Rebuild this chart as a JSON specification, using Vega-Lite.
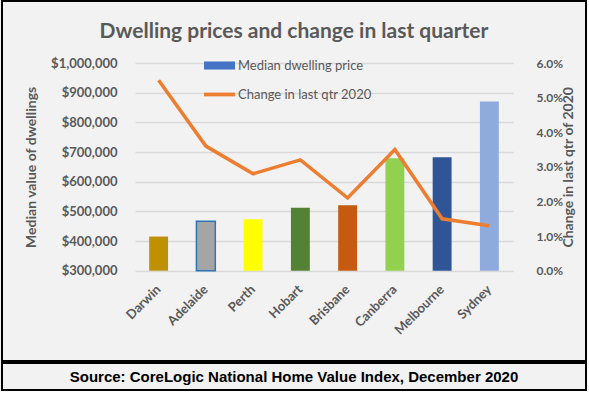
{
  "$schema": "https://vega.github.io/schema/vega-lite/v6.json",
  "background": "#F2F2F2",
  "padding": {"left": 1, "top": 0, "right": 0, "bottom": 0},
  "config": {
    "view": {"stroke": "#000000", "strokeWidth": 2},
    "concat": {"spacing": 0},
    "font": "Lato"
  },
  "vconcat": [
    {
      "width": 584,
      "height": 360,
      "title": {
        "text": "Dwelling prices and change in last quarter",
        "font": "Lato",
        "fontSize": 21,
        "fontWeight": "bold",
        "color": "#595959",
        "anchor": "middle",
        "offset": -41
      },
      "data": {
        "values": [
          {"city": "Darwin", "price": 415000, "change": 0.055},
          {"city": "Adelaide", "price": 467000, "change": 0.036},
          {"city": "Perth", "price": 473000, "change": 0.028},
          {"city": "Hobart", "price": 512000, "change": 0.032},
          {"city": "Brisbane", "price": 521000, "change": 0.021},
          {"city": "Canberra", "price": 679000, "change": 0.035},
          {"city": "Melbourne", "price": 682000, "change": 0.015},
          {"city": "Sydney", "price": 870000, "change": 0.013}
        ]
      },
      "encoding": {
        "x": {
          "field": "city",
          "type": "nominal",
          "sort": null,
          "scale": {"range": [133, 511], "paddingInner": 0.6, "paddingOuter": 0.3},
          "axis": {
            "title": null,
            "offset": -90,
            "domain": false,
            "ticks": false,
            "labelAngle": -45,
            "labelAlign": "right",
            "labelBaseline": "middle",
            "labelPadding": 16,
            "labelFont": "Lato",
            "labelFontSize": 13,
            "labelFontWeight": "bold",
            "labelColor": "#595959"
          }
        }
      },
      "layer": [
        {
          "mark": {"type": "bar", "strokeWidth": 1.5},
          "encoding": {
            "y": {
              "field": "price",
              "type": "quantitative",
              "scale": {"domain": [300000, 1000000], "range": [269.7, 62], "nice": false, "zero": false},
              "axis": {
                "orient": "left",
                "offset": -117,
                "values": [300000, 400000, 500000, 600000, 700000, 800000, 900000, 1000000],
                "format": "$,.0f",
                "domain": false,
                "ticks": false,
                "labelPadding": 2,
                "labelFont": "Lato",
                "labelFontSize": 13,
                "labelFontWeight": "bold",
                "labelColor": "#595959",
                "grid": true,
                "gridColor": "#D9D9D9",
                "gridWidth": 1.3,
                "title": "Median value of dwellings",
                "titleFont": "Lato",
                "titleFontSize": 14,
                "titleFontWeight": "bold",
                "titleColor": "#595959",
                "titlePadding": 12
              }
            },
            "y2": {"datum": 300000},
            "color": {
              "field": "city",
              "type": "nominal",
              "scale": {
                "domain": ["Darwin", "Adelaide", "Perth", "Hobart", "Brisbane", "Canberra", "Melbourne", "Sydney"],
                "range": ["#BF9000", "#A5A5A5", "#FFFF00", "#548235", "#C55A11", "#92D050", "#2F5597", "#8FAADC"]
              },
              "legend": null
            },
            "stroke": {
              "condition": {"test": "datum.city === 'Adelaide'", "value": "#2E75B6"},
              "value": null
            }
          }
        },
        {
          "mark": {"type": "line", "strokeWidth": 3.5},
          "encoding": {
            "y": {
              "field": "change",
              "type": "quantitative",
              "scale": {"domain": [0, 0.06], "range": [269.7, 62], "nice": false},
              "axis": {
                "orient": "right",
                "offset": -52,
                "values": [0, 0.01, 0.02, 0.03, 0.04, 0.05, 0.06],
                "format": ".1%",
                "domain": false,
                "ticks": false,
                "grid": false,
                "labelPadding": 2,
                "labelFont": "Lato",
                "labelFontSize": 12,
                "labelFontWeight": "bold",
                "labelColor": "#595959",
                "title": "Change in last qtr of 2020",
                "titleFont": "Lato",
                "titleFontSize": 14,
                "titleFontWeight": "bold",
                "titleColor": "#595959",
                "titleAngle": 270,
                "titleBaseline": "top",
                "titlePadding": -1
              }
            },
            "stroke": {
              "datum": "Change in last qtr 2020",
              "type": "nominal",
              "scale": {
                "domain": ["Median dwelling price", "Change in last qtr 2020"],
                "range": ["#4472C4", "#ED7D31"]
              },
              "legend": {
                "title": null,
                "orient": "none",
                "legendX": 202,
                "legendY": 49,
                "symbolSize": 961,
                "rowPadding": 6,
                "labelFont": "Lato",
                "labelFontSize": 13,
                "labelColor": "#595959",
                "labelOffset": 3,
                "encode": {
                  "symbols": {
                    "update": {
                      "shape": {"signal": "datum.value === 'Median dwelling price' ? 'M-1,-0.26H1V0.26H-1Z' : 'M-1,-0.12H1V0.12H-1Z'"},
                      "fill": {"signal": "datum.value === 'Median dwelling price' ? '#4472C4' : '#ED7D31'"},
                      "strokeWidth": {"value": 0},
                      "opacity": {"value": 1}
                    }
                  }
                }
              }
            }
          }
        }
      ],
      "resolve": {"scale": {"y": "independent"}}
    },
    {
      "width": 584,
      "height": 27,
      "view": {"stroke": "#000000", "strokeWidth": 2, "fill": "#F2F2F2"},
      "data": {"values": [{"source": "Source: CoreLogic National Home Value Index, December 2020", "pos": 0.5}]},
      "mark": {"type": "text", "font": "Liberation Sans", "fontSize": 15, "fontWeight": "bold", "color": "#000000", "align": "center", "baseline": "middle"},
      "encoding": {
        "x": {"field": "pos", "type": "quantitative", "scale": {"domain": [0, 1]}, "axis": null},
        "y": {"field": "pos", "type": "quantitative", "scale": {"domain": [0, 1]}, "axis": null},
        "text": {"field": "source", "type": "nominal"}
      }
    }
  ]
}
